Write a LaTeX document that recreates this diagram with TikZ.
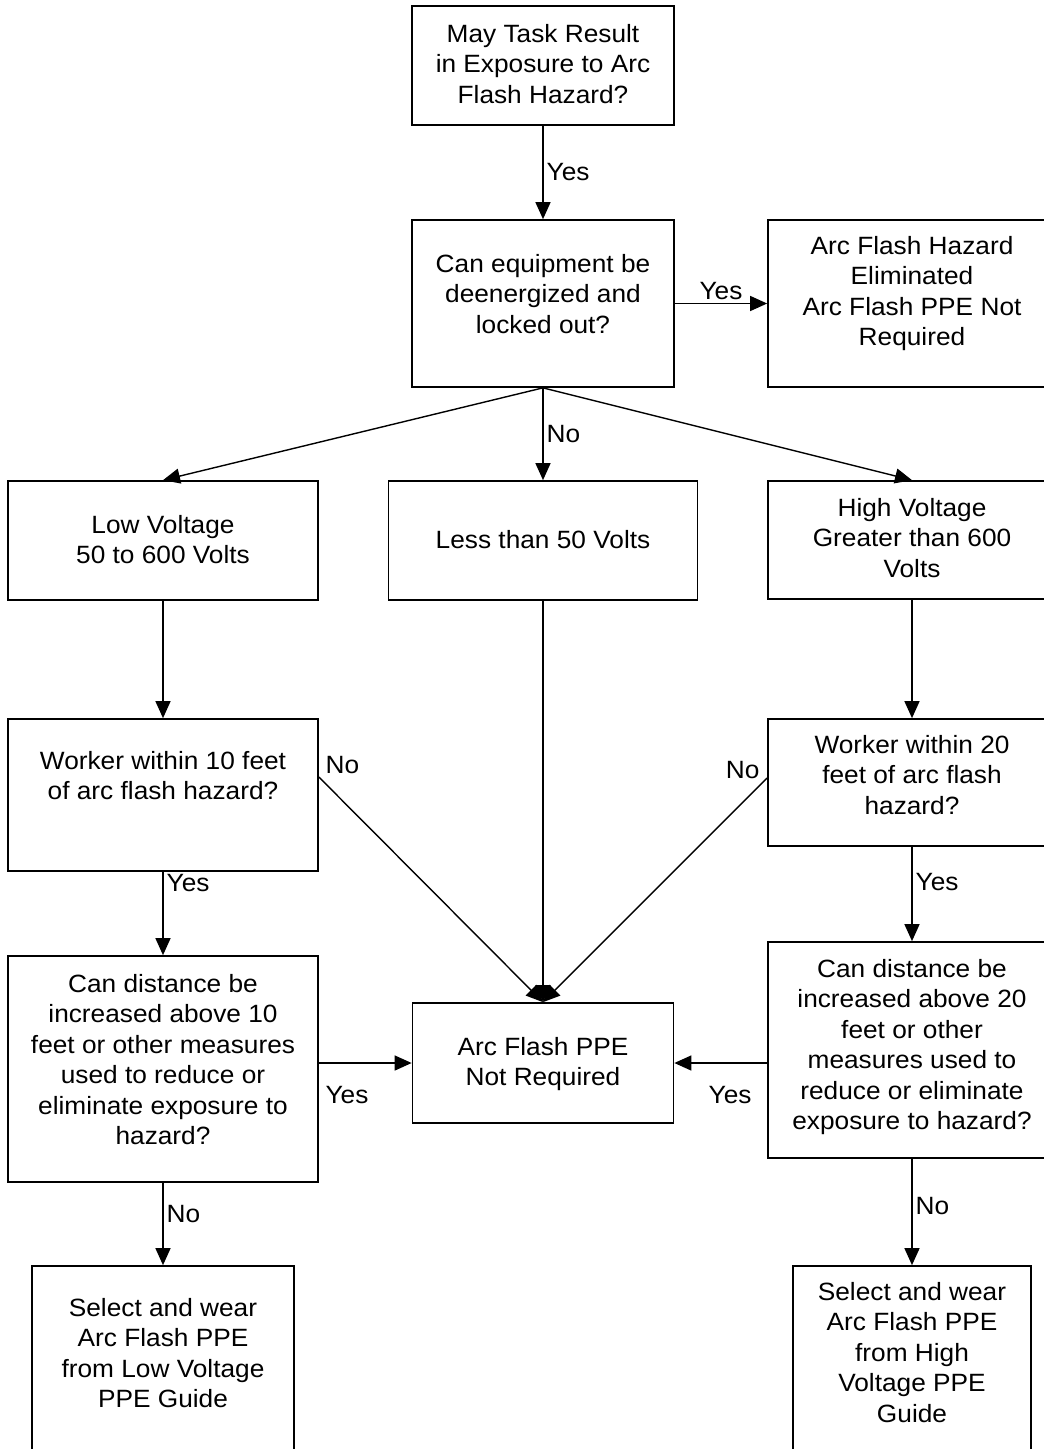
\documentclass[tikz,border=0pt]{standalone}
\usepackage{fontspec}
\setmainfont{Liberation Sans}[FakeStretch=1.05]
\usetikzlibrary{arrows.meta}
\tikzset{
  box/.style = {rectangle, draw, line width=1.7pt, inner sep=0pt},
  txt/.style = {align=center, anchor=north, inner sep=0pt,
                font=\fontsize{25}{30.5}\selectfont},
  arr/.style = {-{Triangle[length=17pt,width=15pt]}, line width=1.4pt},
  lab/.style = {font=\fontsize{25}{30}\selectfont, inner sep=3pt}
}

\begin{document}
\begin{tikzpicture}[x=1pt, y=-1pt]
  \clip (0,0) rectangle (1044,1449);

  % boxes
  \node[box, minimum width=262pt, minimum height=119pt] (task)  at (543,65.5)   {};
  \node[box, minimum width=262pt, minimum height=167pt] (deen)  at (543,303.5)  {};
  \node[box, minimum width=288pt, minimum height=167pt] (elim)  at (912,303.5)  {};
  \node[box, minimum width=310pt, minimum height=119pt] (lowv)  at (163,540.5)  {};
  \node[box, minimum width=309pt, minimum height=119pt] (less)  at (543,540.5)  {};
  \node[box, minimum width=288pt, minimum height=118pt] (highv) at (912,540)    {};
  \node[box, minimum width=310pt, minimum height=152pt] (wk10)  at (163,795)    {};
  \node[box, minimum width=288pt, minimum height=127pt] (wk20)  at (912,782.5)  {};
  \node[box, minimum width=310pt, minimum height=226pt] (cd10)  at (163,1069)   {};
  \node[box, minimum width=261pt, minimum height=120pt] (ppe)   at (543,1063)   {};
  \node[box, minimum width=288pt, minimum height=216pt] (cd20)  at (912,1050)   {};
  \node[box, minimum width=262pt, minimum height=204pt] (sel10) at (163,1368)   {};
  \node[box, minimum width=238pt, minimum height=204pt] (sel20) at (912,1368)   {};

  % texts
  \node[txt] (task-t)  at (543,24)   {May Task Result\\in Exposure to Arc\\Flash Hazard?};
  \node[txt] (deen-t)  at (543,254)  {Can equipment be\\deenergized and\\locked out?};
  \node[txt] (elim-t)  at (912,236)  {Arc Flash Hazard\\Eliminated\\Arc Flash PPE Not\\Required};
  \node[txt] (lowv-t)  at (163,515)  {Low Voltage\\50 to 600 Volts};
  \node[txt] (less-t)  at (543,530)  {Less than 50 Volts};
  \node[txt] (highv-t) at (912,498)  {High Voltage\\Greater than 600\\Volts};
  \node[txt] (wk10-t)  at (163,751)  {Worker within 10 feet\\of arc flash hazard?};
  \node[txt] (wk20-t)  at (912,735)  {Worker within 20\\feet of arc flash\\hazard?};
  \node[txt] (cd10-t)  at (163,974)  {Can distance be\\increased above 10\\feet or other measures\\used to reduce or\\eliminate exposure to\\hazard?};
  \node[txt] (ppe-t)   at (543,1037) {Arc Flash PPE\\Not Required};
  \node[txt] (cd20-t)  at (912,959)  {Can distance be\\increased above 20\\feet or other\\measures used to\\reduce or eliminate\\exposure to hazard?};
  \node[txt] (sel10-t) at (163,1298) {Select and wear\\Arc Flash PPE\\from Low Voltage\\PPE Guide};
  \node[txt] (sel20-t) at (912,1282) {Select and wear\\Arc Flash PPE\\from High\\Voltage PPE\\Guide};

  % connectors
  \draw[arr] (task) -- (deen) node[lab, midway, right] {Yes};
  \draw[arr] (deen) -- (elim) node[lab, midway, above] {Yes};
  \draw[arr] (deen.south) -- (lowv.north);
  \draw[arr] (deen.south) -- (less.north) node[lab, midway, right] {No};
  \draw[arr] (deen.south) -- (highv.north);
  \draw[arr] (lowv) -- (wk10);
  \draw[arr] (less) -- (ppe);
  \draw[arr] (highv) -- (wk20);
  \draw[arr] ([yshift=18pt]wk10.east) -- (ppe.north)
    node[lab, pos=0, anchor=south west, xshift=3pt] {No};
  \draw[arr] ([yshift=4.5pt]wk20.west) -- (ppe.north)
    node[lab, pos=0, anchor=south east, xshift=-4pt, yshift=-4pt] {No};
  \draw[arr] (wk10) -- (cd10) node[lab, pos=0.13, right] {Yes};
  \draw[arr] (wk20) -- (cd20) node[lab, pos=0.375, right] {Yes};
  \draw[arr] (ppe.west -| cd10.east) -- (ppe.west)
    node[lab, pos=0, anchor=north west, xshift=3pt, yshift=-20pt] {Yes};
  \draw[arr] (ppe.east -| cd20.west) -- (ppe.east)
    node[lab, pos=0, anchor=north east, xshift=-12pt, yshift=-20pt] {Yes};
  \draw[arr] (cd10) -- (sel10) node[lab, pos=0.38, right] {No};
  \draw[arr] (cd20) -- (sel20) node[lab, pos=0.44, right] {No};
\end{tikzpicture}
\end{document}
